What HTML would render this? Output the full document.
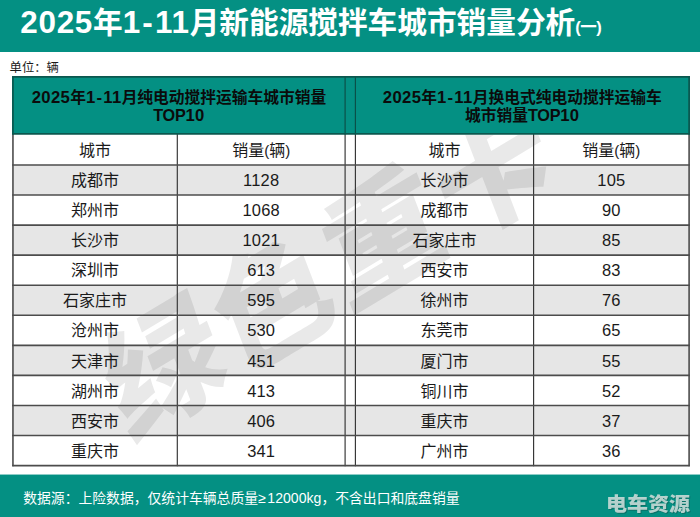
<!DOCTYPE html>
<html lang="zh"><head><meta charset="utf-8"><title>2025年1-11月新能源搅拌车城市销量分析</title>
<style>
html,body{margin:0;padding:0}
body{width:700px;height:517px;overflow:hidden;background:#fff;position:relative;font-family:"Liberation Sans","Noto Sans CJK SC",sans-serif;color:#1a1a1a}
.bar{position:absolute;background:#049083}
.g{position:absolute;background:#e6e6e6}
.grid{position:absolute;left:0;top:0}
.grid line{stroke:#4c4c4c;stroke-width:1.6}
.grid .v{stroke:#333;stroke-width:1.15}
.grid .o{stroke-width:1.6}
.grid .ho{stroke:#0b574e;stroke-width:1.7}
.grid .hv{stroke:#0b4f47;stroke-width:1.15}
.t,.tl{position:absolute;white-space:nowrap;line-height:2em}
.n,.a,.sub,.p,.z{line-height:1}
.t{width:300px;text-align:center}
.ttl{color:#fff;font-weight:bold}
.ttl .n{font-size:1.06em;letter-spacing:.022em}
.hy{margin:0 .05em}
.ttl .sub{font-size:16.5px;margin-left:0;letter-spacing:-.03em}
.h{font-weight:bold;color:#0b0b0b}
.h .n{font-size:1.06em;letter-spacing:.022em}
.h .a{font-size:1.03em;letter-spacing:-.02em}
.c .n{font-size:1.03em;letter-spacing:.012em}
.c .p{font-size:.94em}
.f{color:#fff}
.f .n,.f .a{font-size:1.02em}
.f .ge{margin:0 1.3px 0 .3px}
.u{color:#1a1a1a}
.wm{position:absolute;left:0;top:0}
.logo{position:absolute;overflow:visible;filter:blur(.35px)}
</style></head><body>
<div class="bar" style="left:0;top:0;width:700px;height:52px"></div>
<div class="bar" style="left:12px;top:76px;width:678px;height:58px"></div>
<div class="g" style="left:13px;top:165.00px;width:676px;height:30.00px"></div>
<div class="g" style="left:13px;top:225.00px;width:676px;height:30.00px"></div>
<div class="g" style="left:13px;top:285.00px;width:676px;height:30.00px"></div>
<div class="g" style="left:13px;top:345.00px;width:676px;height:30.00px"></div>
<div class="g" style="left:13px;top:405.00px;width:676px;height:31.00px"></div>
<div class="bar" style="left:0;top:474px;width:700px;height:43px;background:linear-gradient(to bottom,rgba(4,144,131,.45) 1px,#049083 1px)"></div>
<svg class="wm" width="700" height="517" viewBox="0 0 700 517"><defs><clipPath id="wc"><rect x="13" y="134.8" width="676" height="330.8"/></clipPath></defs><g clip-path="url(#wc)"><g transform="translate(327.6 267.7) rotate(-31)" fill="#000" opacity="0.085" font-family="'Liberation Sans','Noto Sans CJK SC',sans-serif" font-weight="900" font-size="122" text-anchor="middle"><text transform="translate(-192.0 0) skewX(-10)" x="0" y="46.4">绿</text><text transform="translate(-64.0 0) skewX(-10)" x="0" y="46.4">色</text><text transform="translate(64.0 0) skewX(-10)" x="0" y="46.4">重</text><text transform="translate(192.0 0) skewX(-10)" x="0" y="46.4">卡</text></g></g></svg>
<svg class="grid" width="700" height="517" viewBox="0 0 700 517"><line x1="12.95" y1="133.80" x2="12.95" y2="466.35" class="o"/><line x1="177.30" y1="133.80" x2="177.30" y2="466.35" class="v"/><line x1="345.10" y1="133.80" x2="345.10" y2="466.35" class="v"/><line x1="355.40" y1="133.80" x2="355.40" y2="466.35" class="v"/><line x1="533.60" y1="133.80" x2="533.60" y2="466.35" class="v"/><line x1="689.10" y1="133.80" x2="689.10" y2="466.35" class="o"/><line x1="12.95" y1="76.15" x2="12.95" y2="134.40" class="ho"/><line x1="345.10" y1="76.15" x2="345.10" y2="134.40" class="hv"/><line x1="355.40" y1="76.15" x2="355.40" y2="134.40" class="hv"/><line x1="689.10" y1="76.15" x2="689.10" y2="134.40" class="ho"/><line x1="12.20" y1="76.90" x2="689.85" y2="76.90" class="ho"/><line x1="12.20" y1="133.80" x2="689.85" y2="133.80" class="ho"/><line x1="12.20" y1="164.95" x2="689.85" y2="164.95"/><line x1="12.20" y1="195.01" x2="689.85" y2="195.01"/><line x1="12.20" y1="225.08" x2="689.85" y2="225.08"/><line x1="12.20" y1="255.14" x2="689.85" y2="255.14"/><line x1="12.20" y1="285.21" x2="689.85" y2="285.21"/><line x1="12.20" y1="315.27" x2="689.85" y2="315.27"/><line x1="12.20" y1="345.34" x2="689.85" y2="345.34"/><line x1="12.20" y1="375.40" x2="689.85" y2="375.40"/><line x1="12.20" y1="405.47" x2="689.85" y2="405.47"/><line x1="12.20" y1="435.54" x2="689.85" y2="435.54"/><line x1="12.20" y1="465.60" x2="689.85" y2="465.60"/></svg>
<div class="tl ttl" style="left:20.30px;top:-6.74px;font-size:29.66px;"><span class="n">2025</span><span class="z">年</span><span class="n">1<span class="hy">-</span>11</span><span class="z">月新能源搅拌车城市销量分析</span><span class="sub">(<span class="z">一</span>)</span></div>
<div class="tl u" style="left:9.60px;top:56.04px;font-size:12.3px;"><span class="z">单位：辆</span></div>
<div class="t h" style="left:29.03px;top:81.79px;font-size:15.75px;"><span class="n">2025</span><span class="z">年</span><span class="n">1<span class="hy">-</span>11</span><span class="z">月纯电动搅拌运输车城市销量</span></div>
<div class="t h" style="left:29.03px;top:100.39px;font-size:15.75px;"><span class="a">TOP</span><span class="n">10</span></div>
<div class="t h" style="left:372.25px;top:81.79px;font-size:15.75px;"><span class="n">2025</span><span class="z">年</span><span class="n">1<span class="hy">-</span>11</span><span class="z">月换电式纯电动搅拌运输车</span></div>
<div class="t h" style="left:372.25px;top:100.39px;font-size:15.75px;"><span class="z">城市销量</span><span class="a">TOP</span><span class="n">10</span></div>
<div class="t c" style="left:-54.88px;top:134.76px;font-size:16px;"><span class="z">城市</span></div>
<div class="t c" style="left:111.20px;top:134.76px;font-size:16px;"><span class="z">销量</span><span class="p">(</span><span class="z">辆</span><span class="p">)</span></div>
<div class="t c" style="left:294.50px;top:134.76px;font-size:16px;"><span class="z">城市</span></div>
<div class="t c" style="left:461.35px;top:134.76px;font-size:16px;"><span class="z">销量</span><span class="p">(</span><span class="z">辆</span><span class="p">)</span></div>
<div class="t c" style="left:-54.88px;top:165.11px;font-size:16px;"><span class="z">成都市</span></div>
<div class="t c" style="left:111.20px;top:165.11px;font-size:16px;"><span class="n">1128</span></div>
<div class="t c" style="left:294.50px;top:165.11px;font-size:16px;"><span class="z">长沙市</span></div>
<div class="t c" style="left:461.35px;top:165.11px;font-size:16px;"><span class="n">105</span></div>
<div class="t c" style="left:-54.88px;top:195.17px;font-size:16px;"><span class="z">郑州市</span></div>
<div class="t c" style="left:111.20px;top:195.17px;font-size:16px;"><span class="n">1068</span></div>
<div class="t c" style="left:294.50px;top:195.17px;font-size:16px;"><span class="z">成都市</span></div>
<div class="t c" style="left:461.35px;top:195.17px;font-size:16px;"><span class="n">90</span></div>
<div class="t c" style="left:-54.88px;top:225.24px;font-size:16px;"><span class="z">长沙市</span></div>
<div class="t c" style="left:111.20px;top:225.24px;font-size:16px;"><span class="n">1021</span></div>
<div class="t c" style="left:294.50px;top:225.24px;font-size:16px;"><span class="z">石家庄市</span></div>
<div class="t c" style="left:461.35px;top:225.24px;font-size:16px;"><span class="n">85</span></div>
<div class="t c" style="left:-54.88px;top:255.30px;font-size:16px;"><span class="z">深圳市</span></div>
<div class="t c" style="left:111.20px;top:255.30px;font-size:16px;"><span class="n">613</span></div>
<div class="t c" style="left:294.50px;top:255.30px;font-size:16px;"><span class="z">西安市</span></div>
<div class="t c" style="left:461.35px;top:255.30px;font-size:16px;"><span class="n">83</span></div>
<div class="t c" style="left:-54.88px;top:285.37px;font-size:16px;"><span class="z">石家庄市</span></div>
<div class="t c" style="left:111.20px;top:285.37px;font-size:16px;"><span class="n">595</span></div>
<div class="t c" style="left:294.50px;top:285.37px;font-size:16px;"><span class="z">徐州市</span></div>
<div class="t c" style="left:461.35px;top:285.37px;font-size:16px;"><span class="n">76</span></div>
<div class="t c" style="left:-54.88px;top:315.43px;font-size:16px;"><span class="z">沧州市</span></div>
<div class="t c" style="left:111.20px;top:315.43px;font-size:16px;"><span class="n">530</span></div>
<div class="t c" style="left:294.50px;top:315.43px;font-size:16px;"><span class="z">东莞市</span></div>
<div class="t c" style="left:461.35px;top:315.43px;font-size:16px;"><span class="n">65</span></div>
<div class="t c" style="left:-54.88px;top:345.50px;font-size:16px;"><span class="z">天津市</span></div>
<div class="t c" style="left:111.20px;top:345.50px;font-size:16px;"><span class="n">451</span></div>
<div class="t c" style="left:294.50px;top:345.50px;font-size:16px;"><span class="z">厦门市</span></div>
<div class="t c" style="left:461.35px;top:345.50px;font-size:16px;"><span class="n">55</span></div>
<div class="t c" style="left:-54.88px;top:375.56px;font-size:16px;"><span class="z">湖州市</span></div>
<div class="t c" style="left:111.20px;top:375.56px;font-size:16px;"><span class="n">413</span></div>
<div class="t c" style="left:294.50px;top:375.56px;font-size:16px;"><span class="z">铜川市</span></div>
<div class="t c" style="left:461.35px;top:375.56px;font-size:16px;"><span class="n">52</span></div>
<div class="t c" style="left:-54.88px;top:405.63px;font-size:16px;"><span class="z">西安市</span></div>
<div class="t c" style="left:111.20px;top:405.63px;font-size:16px;"><span class="n">406</span></div>
<div class="t c" style="left:294.50px;top:405.63px;font-size:16px;"><span class="z">重庆市</span></div>
<div class="t c" style="left:461.35px;top:405.63px;font-size:16px;"><span class="n">37</span></div>
<div class="t c" style="left:-54.88px;top:435.69px;font-size:16px;"><span class="z">重庆市</span></div>
<div class="t c" style="left:111.20px;top:435.69px;font-size:16px;"><span class="n">341</span></div>
<div class="t c" style="left:294.50px;top:435.69px;font-size:16px;"><span class="z">广州市</span></div>
<div class="t c" style="left:461.35px;top:435.69px;font-size:16px;"><span class="n">36</span></div>
<div class="tl f" style="left:23.20px;top:485.19px;font-size:13.82px;"><span class="z">数据源：上险数据，仅统计车辆总质量</span><span class="a ge">≥</span><span class="n">12000</span><span class="a">kg</span><span class="z">，不含出口和底盘销量</span></div>
<svg class="logo" style="left:605.8px;top:494px" width="84" height="19" viewBox="0 -870 4000 980" preserveAspectRatio="none"><g font-family="'Liberation Sans','Noto Sans CJK SC',sans-serif" font-weight="900" font-size="1000"><text x="0" y="0" fill="#14524b" opacity=".5" transform="translate(50 55)" textLength="4000" lengthAdjust="spacingAndGlyphs">电车资源</text><text x="0" y="0" fill="#d2e0dd" opacity=".86" textLength="4000" lengthAdjust="spacingAndGlyphs">电车资源</text></g></svg>
</body></html>
